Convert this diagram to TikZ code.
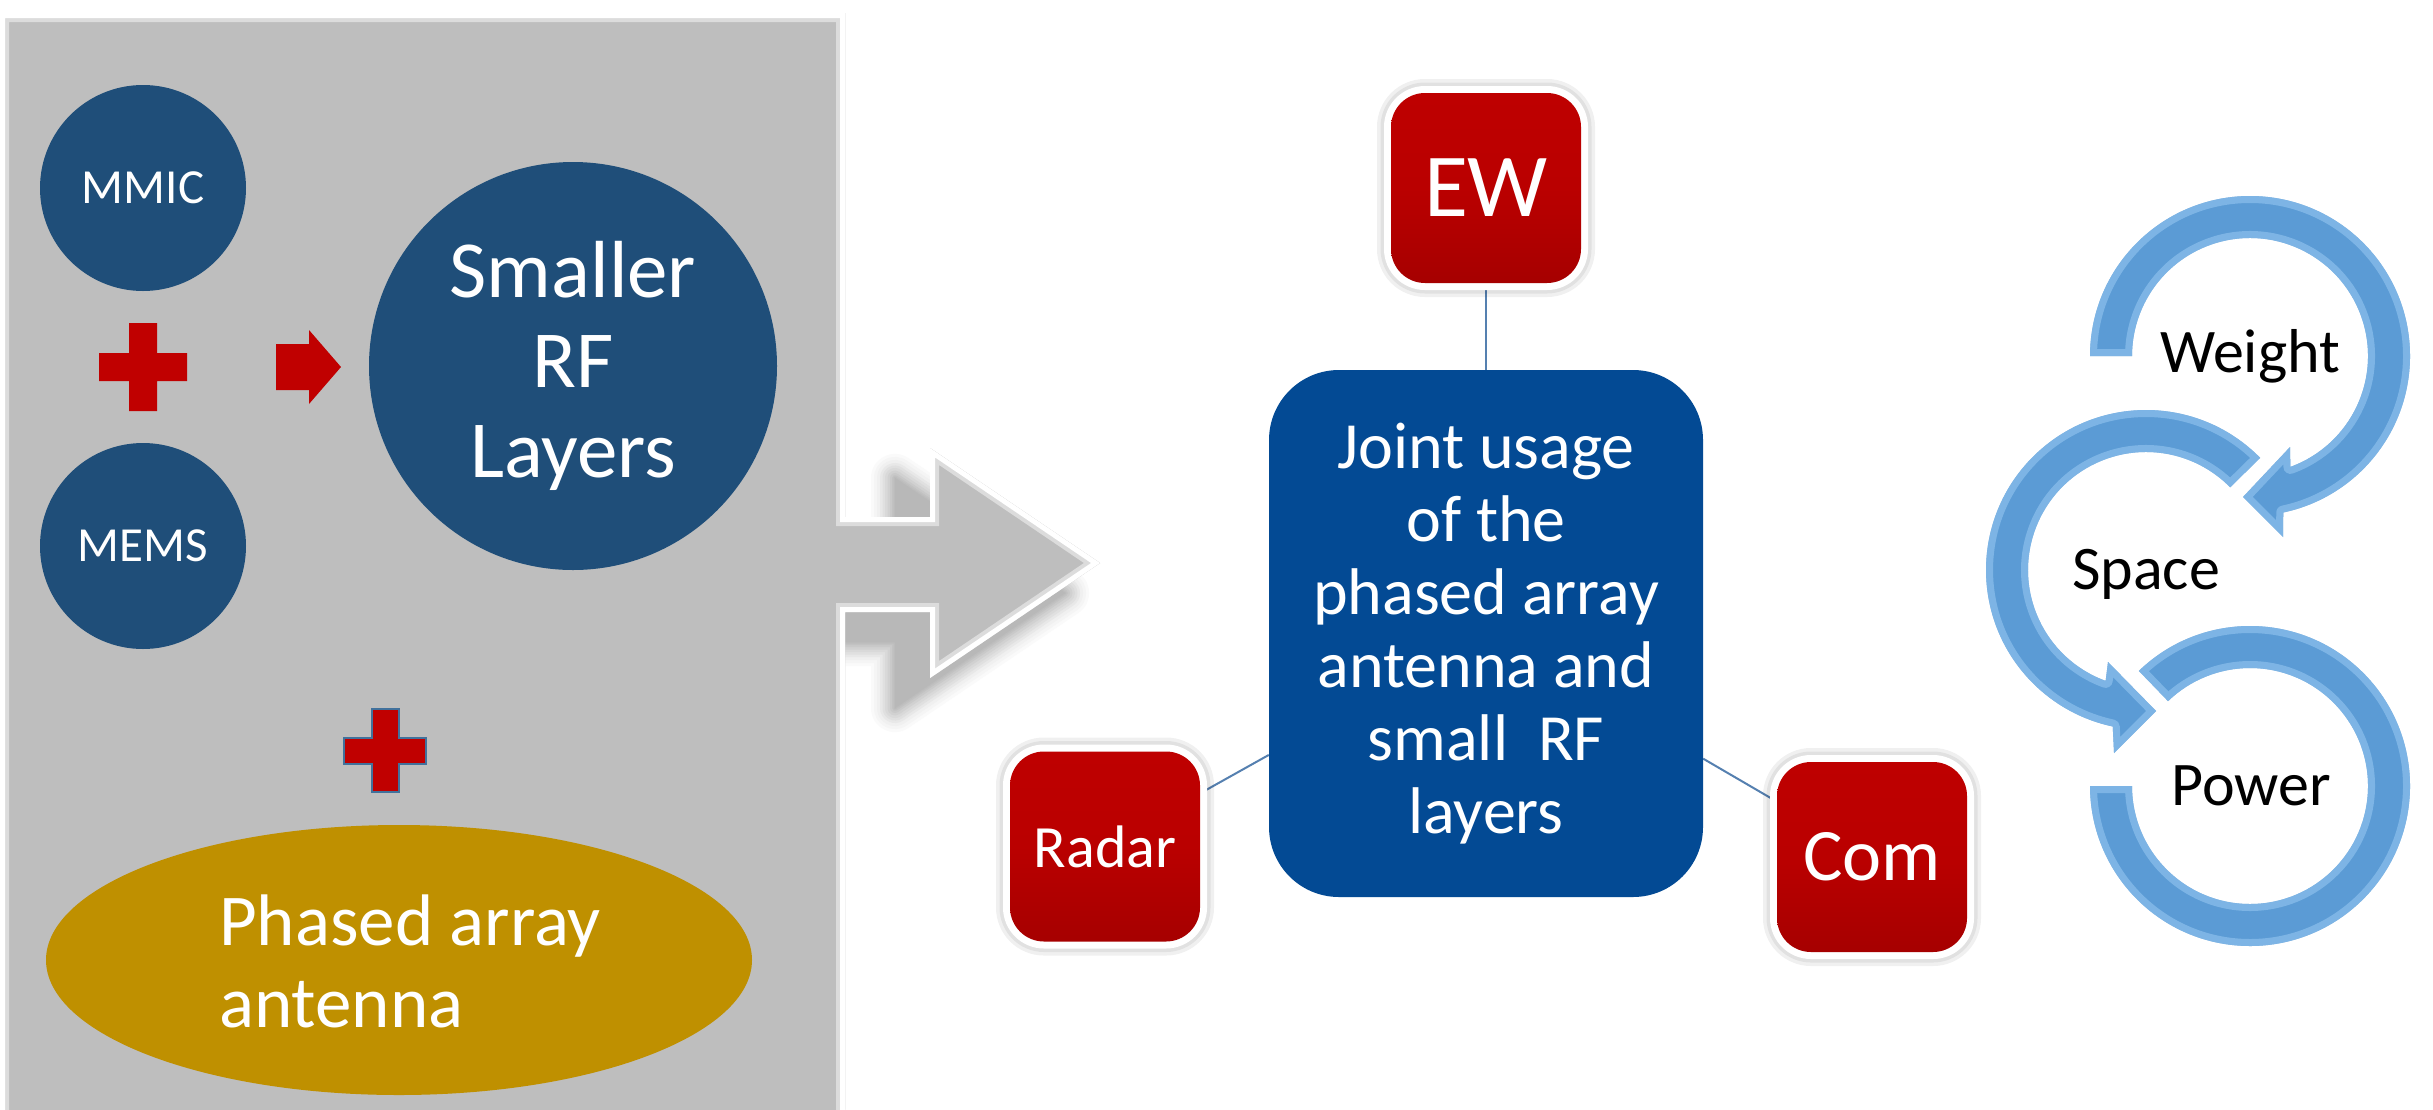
\documentclass[tikz,border=0pt]{standalone}
\usepackage{fontspec}
\setmainfont{Carlito}
\usetikzlibrary{shapes.geometric}

\definecolor{panelgray}{HTML}{BEBEBE}
\definecolor{panelrim}{HTML}{DCDCDC}
\definecolor{discblue}{HTML}{1F4E79}
\definecolor{plusred}{HTML}{C00000}
\definecolor{plusedge}{HTML}{41719C}
\definecolor{gold}{HTML}{BF9000}
\definecolor{jointblue}{HTML}{034A94}
\definecolor{boxredtop}{HTML}{BE0000}
\definecolor{boxredmid}{HTML}{BA0000}
\definecolor{boxredbot}{HTML}{A60000}
\definecolor{linkblue}{HTML}{5580B0}
\definecolor{ringblue}{HTML}{5B9BD5}
\definecolor{ringlight}{HTML}{8CC0EC}

\pgfdeclarelayer{bg}
\pgfsetlayers{bg,main}

\newcommand{\fsz}[2]{\fontsize{#1pt}{#2pt}\selectfont}

% outline of the grey callout: panel with an arrow on its right side
\newcommand{\calloutpath}{(0,13) -- (845,13) -- (845,517) -- (930,517) -- (930,448)
  -- (1100,563) -- (930,678) -- (930,612) -- (845,612) -- (845,1140) -- (0,1140) -- cycle}
% the arrow part, moved down and to the left, for its shadow
\newcommand{\calloutshadow}{(810,547) -- (895,547) -- (895,478) -- (1065,593)
  -- (895,708) -- (895,642) -- (810,642) -- cycle}

% circular arrows, each in coordinates relative to its own centre
\newcommand{\ringweight}{(-180:160) arc[start angle=-180, end angle=78, radius=160]
  -- (33,181) -- (-7,141) -- (40,91) -- (70:118)
  arc[start angle=70, end angle=-180, radius=118] -- cycle}
\newcommand{\ringspace}{(-44.5:160) arc[start angle=-44.5, end angle=-258, radius=160]
  -- (-32,183) -- (10,141) -- (-38,92) -- (-250:118)
  arc[start angle=-250, end angle=-44.5, radius=118] -- cycle}
\newcommand{\ringpower}{(-134:160) arc[start angle=-134, end angle=180, radius=160]
  -- (180:118) arc[start angle=180, end angle=-134, radius=118] -- cycle}

\tikzset{
  disc/.style={circle, fill=discblue, inner sep=0pt, text=white},
  redbox/.style={rectangle, rounded corners=34pt, minimum width=190pt,
    minimum height=190pt, inner sep=0pt, text=white,
    top color=boxredtop, bottom color=boxredbot, middle color=boxredmid,
    preaction={draw=black, opacity=0.06, line width=28pt},
    preaction={draw=black, opacity=0.06, line width=21pt},
    preaction={draw=white, line width=14pt}},
  link/.style={draw=linkblue, line width=2pt},
  ringlabel/.style={anchor=base, text=black, font=\fsz{62}{68}},
  redshape/.style={fill=plusred},
}

\newcommand{\ring}[2]{%
  \begin{scope}[shift={#1}]
    \fill[ringblue] #2;
    \begin{scope}
      \clip #2;
      \draw[ringlight, opacity=0.7, line width=14pt, line join=round] #2;
    \end{scope}
  \end{scope}}

\begin{document}
\begin{tikzpicture}[x=1pt, y=-1pt]
  \begin{pgfonlayer}{bg}
    \fill[white] (0,0) rectangle (2433,1109);
  \end{pgfonlayer}
  \useasboundingbox (0,0) rectangle (2433,1109);

  % soft shadow beneath the arrow of the callout, from light outer to dark inner bands
  \foreach \w/\p in {48/2,42/4,36/6,30/9,25/12,20/15,15/18,10/21,6/24,3/26,0.1/28}
    \filldraw[black!\p, line width=\w pt, line join=round] \calloutshadow;

  % grey callout with a bevelled rim
  \fill[panelgray] \calloutpath;
  \begin{scope}
    \clip \calloutpath;
    \draw[panelrim, line width=18pt, line join=miter] \calloutpath;
    \draw[white, line width=10pt, line join=miter] \calloutpath;
  \end{scope}

  % building blocks
  \node[disc, minimum size=206pt, font=\fsz{49}{54}] (mmic) at (143,188) {MMIC};
  \node[disc, minimum size=206pt, font=\fsz{49}{54}] (mems) at (143,546) {MEMS};
  \node[disc, minimum size=408pt, align=center, font=\fsz{81}{90}] (rf) at (573,366) {Smaller\\RF\\Layers};

  \fill[redshape] (129,323) -- (157,323) -- (157,353) -- (187,353) -- (187,381) -- (157,381)
    -- (157,411) -- (129,411) -- (129,381) -- (99,381) -- (99,353) -- (129,353) -- cycle;
  \fill[redshape] (276,344) -- (309,344) -- (309,330) -- (341,367) -- (309,404) -- (309,390)
    -- (276,390) -- cycle;
  \filldraw[redshape, draw=plusedge, line width=2pt] (372,709) -- (399,709) -- (399,738)
    -- (426,738) -- (426,764) -- (399,764) -- (399,792) -- (372,792) -- (372,764)
    -- (344,764) -- (344,738) -- (372,738) -- cycle;

  \node[ellipse, fill=gold, minimum width=706pt, minimum height=270pt, inner sep=0pt] (antenna) at (399,960) {};
  \node[text=white, align=left, font=\fsz{73}{82}] (antennatext) at (410,961) {Phased array\\antenna};

  % applications around the shared aperture
  \node[rectangle, rounded corners=70pt, fill=jointblue, minimum width=434pt,
    minimum height=527pt, inner sep=0pt, text=white, align=center,
    font=\fsz{66}{73}] (joint) at (1486,633.5)
    {Joint usage\\of the\\phased array\\antenna and\\small\ \ RF\\layers};
  \node[redbox, font=\fsz{90}{96}] (ew) at (1486,188) {EW};
  \node[redbox, font=\fsz{60}{66}] (radar) at (1105,846.5) {Radar};
  \node[redbox, font=\fsz{74}{80}] (com) at (1872,857) {Com};

  \begin{pgfonlayer}{bg}
    \draw[link] (ew) -- (joint);
    \draw[link] (radar) -- (joint);
    \draw[link] (com) -- (joint);
  \end{pgfonlayer}

  % circular arrow process
  \ring{(2250,356)}{\ringweight}
  \ring{(2146,570)}{\ringspace}
  \ring{(2250,786)}{\ringpower}
  \node[ringlabel] (weight) at (2250,372) {Weight};
  \node[ringlabel] (space) at (2146,589) {Space};
  \node[ringlabel] (power) at (2251,805) {Power};
\end{tikzpicture}
\end{document}
